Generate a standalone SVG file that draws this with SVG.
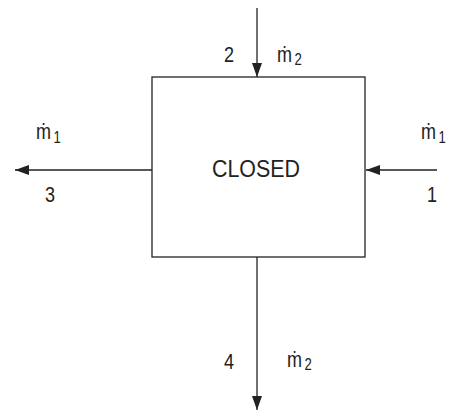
<svg xmlns="http://www.w3.org/2000/svg" width="453" height="414" viewBox="0 0 453 414">
<style>
.l{stroke:#222;stroke-width:1.3;fill:none}
.t{font-family:"Liberation Sans",Arial,sans-serif;font-size:22px;fill:#222}
.s{font-size:16px}
</style>
<defs>
<marker id="a" markerWidth="14" markerHeight="10" refX="14" refY="5" orient="auto" markerUnits="userSpaceOnUse">
<path d="M0,0 L14,5 L0,10 Z" fill="#222"/>
</marker>
</defs>
<g id="box">
<rect x="152" y="77" width="213" height="180" class="l"/>
<text class="t" x="212" y="177" font-size="24" textLength="88" lengthAdjust="spacingAndGlyphs" style="font-size:24px">CLOSED</text>
</g>
<g id="connectors">
<line class="l" x1="257" y1="8" x2="257" y2="77" marker-end="url(#a)"/>
<line class="l" x1="152" y1="170" x2="15" y2="170" marker-end="url(#a)"/>
<line class="l" x1="437" y1="170" x2="366" y2="170" marker-end="url(#a)"/>
<line class="l" x1="257" y1="257" x2="257" y2="410" marker-end="url(#a)"/>
</g>
<g id="labels">
<text class="t" transform="translate(224,62) scale(0.82,1)">2</text>
<text class="t" transform="translate(277,62) scale(0.82,1)">ṁ<tspan class="s" dx="3" dy="3">2</tspan></text>
<text class="t" transform="translate(36,139) scale(0.82,1)">ṁ<tspan class="s" dx="3" dy="4">1</tspan></text>
<text class="t" transform="translate(45,202) scale(0.82,1)">3</text>
<text class="t" transform="translate(421,139) scale(0.82,1)">ṁ<tspan class="s" dx="3" dy="4">1</tspan></text>
<text class="t" transform="translate(427,202) scale(0.82,1)">1</text>
<text class="t" transform="translate(224,369) scale(0.82,1)">4</text>
<text class="t" transform="translate(287,367) scale(0.82,1)">ṁ<tspan class="s" dx="3" dy="3">2</tspan></text>
</g>
</svg>
